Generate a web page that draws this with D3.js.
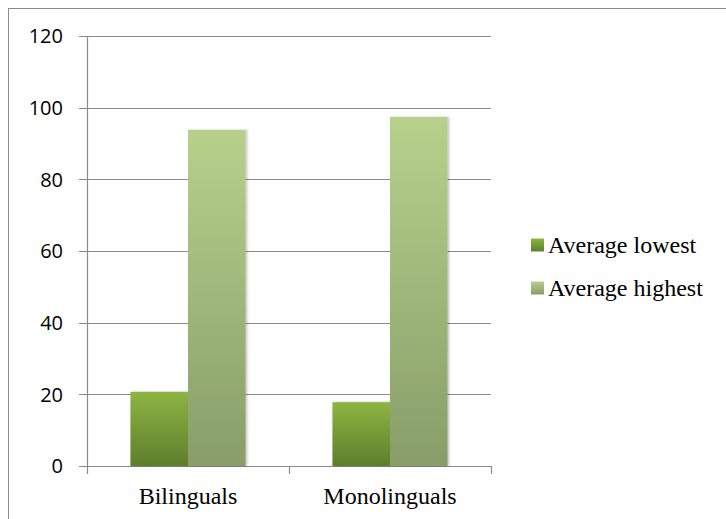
<!DOCTYPE html>
<html>
<head>
<meta charset="utf-8">
<script src="https://cdn.jsdelivr.net/npm/d3@7"></script>
<style>
  body { margin: 0; background: #fff; }
  .ylab { font-family: 'Open Sans', sans-serif; font-size: 20px; }
  .serif { font-family: 'Liberation Serif', 'Times New Roman', Times, 'DejaVu Serif', serif; font-size: 24px; }
</style>
</head>
<body>
<div id="chart"></div>
<script>
// Data
var categories = ['Bilinguals', 'Monolinguals']
var seriesNames = ['Average lowest', 'Average highest']
var averageLowest = [20.7, 17.8]
var averageHighest = [93.8, 97.4]
var yTicks = [0, 20, 40, 60, 80, 100, 120]

var width = 726
var height = 519
var margin = {top: 36, right: 235, bottom: 53, left: 87}
var innerW = width - margin.left - margin.right
var innerH = height - margin.top - margin.bottom

var rows = categories.map(function(c, i){
  return {cat: c, values: [averageLowest[i], averageHighest[i]]}
})

var svg = d3.select('#chart').append('svg')
    .attr('width', width)
    .attr('height', height)

// Gradients for bars
var defs = svg.append('defs')
var grads = [
  {id: 'gLow', top: '#8db543', bottom: '#5e7e2b'},
  {id: 'gHigh', top: '#b7d18c', bottom: '#889d69'}
]
grads.forEach(function(g){
  var lg = defs.append('linearGradient')
      .attr('id', g.id)
      .attr('x1', 0).attr('y1', 0).attr('x2', 0).attr('y2', 1)
  lg.append('stop').attr('offset', '0%').attr('stop-color', g.top)
  lg.append('stop').attr('offset', '100%').attr('stop-color', g.bottom)
})
var shadow = defs.append('filter').attr('id', 'shadow')
    .attr('x', '-10%').attr('y', '-10%').attr('width', '130%').attr('height', '130%')
shadow.append('feDropShadow')
    .attr('dx', 1.5).attr('dy', 0).attr('stdDeviation', 1.2)
    .attr('flood-color', '#000').attr('flood-opacity', 0.25)

// Outer border
svg.append('rect')
    .attr('x', 8.5).attr('y', 8.5)
    .attr('width', width)
    .attr('height', height)
    .attr('fill', 'none')
    .attr('stroke', '#8c8c8c')

var g = svg.append('g')
    .attr('transform', 'translate(' + margin.left + ',' + margin.top + ')')

var x0 = d3.scaleBand()
    .domain(categories)
    .range([0, innerW])
    .paddingInner(0.43)
    .paddingOuter(0.215)

var x1 = d3.scaleBand()
    .domain([0, 1])
    .range([0, x0.bandwidth()])

var y = d3.scaleLinear()
    .domain([0, 120])
    .range([innerH, 0])

var gridColor = '#8a8a8a'

// Horizontal gridlines
g.selectAll('line.grid')
    .data(yTicks)
  .enter().append('line')
    .attr('class', 'grid')
    .attr('x1', -8)
    .attr('x2', innerW)
    .attr('y1', function(d){ return Math.round(y(d)) + 0.5 })
    .attr('y2', function(d){ return Math.round(y(d)) + 0.5 })
    .style('stroke', gridColor)
    .style('stroke-width', 1.2)

// Y axis line
g.append('line')
    .attr('x1', 0.5).attr('x2', 0.5)
    .attr('y1', 0).attr('y2', innerH)
    .style('stroke', gridColor)
    .style('stroke-width', 1.2)

// Y labels
g.selectAll('text.ylab')
    .data(yTicks)
  .enter().append('text')
    .attr('class', 'ylab')
    .attr('x', -24)
    .attr('y', function(d){ return y(d) })
    .attr('dy', '0.36em')
    .style('text-anchor', 'end')
    .attr('fill', '#000')
    .text(function(d){ return d })

// X tick marks at category boundaries
var xBounds = [0, x0.step(), innerW]
g.selectAll('line.xtick')
    .data(xBounds)
  .enter().append('line')
    .attr('class', 'xtick')
    .attr('x1', function(d){ return Math.round(d) + 0.5 })
    .attr('x2', function(d){ return Math.round(d) + 0.5 })
    .attr('y1', innerH)
    .attr('y2', innerH + 8)
    .style('stroke', gridColor)
    .style('stroke-width', 1.2)

// Bars
var groups = g.selectAll('g.cat')
    .data(rows)
  .enter().append('g')
    .attr('class', 'cat')
    .attr('transform', function(d){ return 'translate(' + x0(d.cat) + ',0)' })

groups.selectAll('rect')
    .data(function(d){ return d.values })
  .enter().append('rect')
    .attr('x', function(d, i){ return x1(i) })
    .attr('y', function(d){ return y(d) })
    .attr('width', x1.bandwidth())
    .attr('height', function(d){ return innerH - y(d) })
    .attr('fill', function(d, i){ return 'url(#' + grads[i].id + ')' })
    .attr('filter', 'url(#shadow)')

// X labels
g.selectAll('text.xlab')
    .data(categories)
  .enter().append('text')
    .attr('class', 'xlab serif')
    .attr('x', function(d){ return x0(d) + x0.bandwidth() / 2 })
    .attr('y', innerH + 38)
    .style('text-anchor', 'middle')
    .attr('fill', '#000')
    .text(function(d){ return d })

// Legend
var legend = svg.append('g')
    .attr('transform', 'translate(531,245)')
var item = legend.selectAll('g.item')
    .data(seriesNames)
  .enter().append('g')
    .attr('class', 'item')
    .attr('transform', function(d, i){ return 'translate(0,' + (i * 43) + ')' })
item.append('rect')
    .attr('x', 0)
    .attr('y', -6.5)
    .attr('width', 13)
    .attr('height', 13)
    .attr('fill', function(d, i){ return 'url(#' + grads[i].id + ')' })
item.append('text')
    .attr('class', 'serif')
    .attr('x', 17)
    .attr('y', 0)
    .attr('dy', '0.33em')
    .attr('fill', '#000')
    .text(function(d){ return d })
</script>
</body>
</html>
